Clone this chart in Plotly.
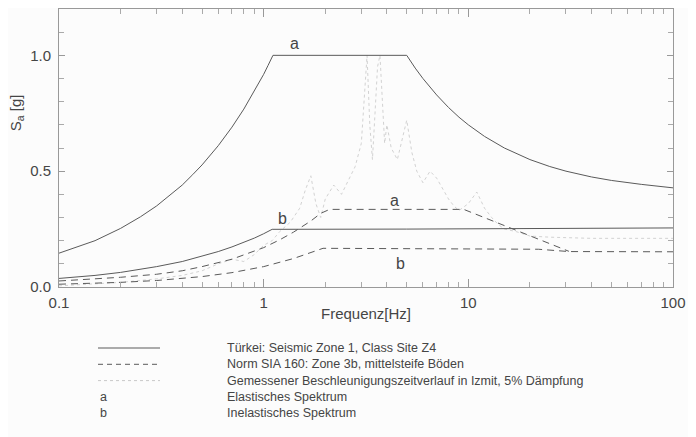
import math
import plotly.graph_objects as go

# ---- data ----
tr_el_f = [0.1, 0.12, 0.15, 0.2, 0.25, 0.3, 0.35, 0.4, 0.45, 0.5, 0.6, 0.7, 0.8, 0.9, 1.0, 1.05, 1.11,
           5.0, 5.25, 5.5, 6.0, 6.5, 7.0, 8.0, 9.0, 10.0, 12.0, 15.0, 20.0, 25.0, 30.0, 40.0, 50.0, 70.0, 100.0]
tr_el_v = [0.146, 0.169, 0.2, 0.253, 0.303, 0.35, 0.397, 0.44, 0.485, 0.527, 0.61, 0.69, 0.768, 0.845, 0.918, 0.956, 1.0,
           1.0, 0.971, 0.945, 0.9, 0.862, 0.829, 0.775, 0.733, 0.7, 0.65, 0.6, 0.55, 0.52, 0.5, 0.475, 0.46, 0.443, 0.428]

tr_in_f = [0.1, 0.15, 0.2, 0.3, 0.4, 0.5, 0.6, 0.7, 0.8, 0.9, 1.0, 1.1, 5.0, 100.0]
tr_in_v = [0.037, 0.05, 0.063, 0.088, 0.11, 0.132, 0.153, 0.173, 0.192, 0.211, 0.23, 0.249, 0.25, 0.255]

sia_el_f = [0.1, 0.15, 0.2, 0.3, 0.4, 0.5, 0.7, 1.0, 1.2, 1.4, 1.7, 1.9, 2.1, 9.5, 31.0]
sia_el_v = [0.026, 0.034, 0.042, 0.055, 0.07, 0.088, 0.12, 0.17, 0.204, 0.237, 0.285, 0.318, 0.335, 0.335, 0.154]

sia_in_f = [0.1, 0.2, 0.3, 0.4, 0.5, 0.7, 1.0, 1.4, 1.7, 1.95, 22.0, 31.0, 100.0]
sia_in_v = [0.012, 0.02, 0.028, 0.036, 0.045, 0.062, 0.088, 0.123, 0.148, 0.167, 0.163, 0.153, 0.152]

meas_f = [0.1, 0.15, 0.2, 0.3, 0.4, 0.5, 0.6, 0.7, 0.8, 0.9, 1.0, 1.1, 1.2, 1.35, 1.5, 1.6, 1.7, 1.8,
          1.9, 2.0, 2.2, 2.4, 2.6, 2.8, 3.0, 3.1, 3.2, 3.3, 3.4, 3.5, 3.6, 3.7, 3.8, 3.9, 4.0, 4.2,
          4.5, 4.8, 5.0, 5.3, 5.6, 6.0, 6.5, 7.0, 7.5, 8.0, 8.5, 9.0, 10.0, 11.0, 12.0, 13.0, 14.0,
          15.0, 17.0, 20.0, 25.0, 30.0, 40.0, 50.0, 60.0, 80.0, 100.0]
meas_v = [0.005, 0.012, 0.02, 0.035, 0.05, 0.07, 0.1, 0.12, 0.11, 0.14, 0.18, 0.2, 0.24, 0.28, 0.34,
          0.42, 0.48, 0.36, 0.3, 0.38, 0.44, 0.4, 0.46, 0.52, 0.62, 0.8, 1.0, 0.7, 0.55, 0.75, 0.95,
          1.0, 0.8, 0.62, 0.7, 0.6, 0.55, 0.65, 0.72, 0.58, 0.5, 0.45, 0.5, 0.47, 0.42, 0.38, 0.35,
          0.33, 0.36, 0.41, 0.34, 0.3, 0.27, 0.25, 0.24, 0.22, 0.215, 0.212, 0.21, 0.21, 0.21, 0.21, 0.21]

x_tick_vals = [0.1, 1, 10, 100]
x_tick_text = ["0.1", "1", "10", "100"]
y_tick_vals = [0.0, 0.5, 1.0]
y_tick_text = ["0.0", "0.5", "1.0"]

curve_labels = [  # (text, f, Sa)
    ("a", 1.42, 1.05),
    ("b", 1.24, 0.297),
    ("a", 4.38, 0.375),
    ("b", 4.64, 0.102),
]

legend_rows = [
    ("solid", "Türkei: Seismic Zone 1, Class Site Z4"),
    ("dash", "Norm SIA 160: Zone 3b, mittelsteife Böden"),
    ("dot", "Gemessener Beschleunigungszeitverlauf in Izmit, 5% Dämpfung"),
    ("a", "Elastisches Spektrum"),
    ("b", "Inelastisches Spektrum"),
]

FONT = "Liberation Sans"
TXT = "#454545"
LINE = "#5a5a5a"
BG = "#fcfcfc"

fig = go.Figure()
fig.add_trace(go.Scatter(x=meas_f, y=meas_v, mode="lines",
                         line=dict(color="#d2d2d2", width=1.0, dash="dot")))
fig.add_trace(go.Scatter(x=tr_el_f, y=tr_el_v, mode="lines", line=dict(color=LINE, width=1.0)))
fig.add_trace(go.Scatter(x=tr_in_f, y=tr_in_v, mode="lines", line=dict(color=LINE, width=1.0)))
fig.add_trace(go.Scatter(x=sia_el_f, y=sia_el_v, mode="lines", line=dict(color=LINE, width=1.0, dash="7px,5px")))
fig.add_trace(go.Scatter(x=sia_in_f, y=sia_in_v, mode="lines", line=dict(color=LINE, width=1.0, dash="7px,5px")))

for t, f, v in curve_labels:
    fig.add_annotation(x=math.log10(f), y=v, xref="x", yref="y", text=t, showarrow=False,
                       xanchor="center", yanchor="middle",
                       font=dict(family=FONT, size=16, color=TXT))

# axis titles
fig.add_annotation(x=-0.068, y=0.626, xref="paper", yref="paper", text="S<sub>a</sub> [g]",
                   textangle=-90, showarrow=False, xanchor="center", yanchor="middle",
                   font=dict(family=FONT, size=15, color=TXT))
fig.add_annotation(x=0.5, y=-0.097, xref="paper", yref="paper", text="Frequenz[Hz]",
                   showarrow=False, xanchor="center", yanchor="middle",
                   font=dict(family=FONT, size=15, color=TXT))

# legend block below the plot (page pixel positions -> paper fractions)
row_y0 = 348
row_dy = 16.3


def py(p):
    return (287 - p) / 278.0


def px(p):
    return (p - 59) / 614.0


for i, (kind, text) in enumerate(legend_rows):
    yy = py(row_y0 + i * row_dy)
    if kind in ("solid", "dash", "dot"):
        dash = {"solid": "solid", "dash": "5px,4px", "dot": "dot"}[kind]
        col = "#c8c8c8" if kind == "dot" else LINE
        fig.add_shape(type="line", xref="paper", yref="paper", x0=px(98), x1=px(160), y0=yy, y1=yy,
                      line=dict(color=col, width=1.0, dash=dash))
    else:
        fig.add_annotation(x=px(98), y=yy, xref="paper", yref="paper", text=kind, xanchor="left",
                           yanchor="middle", showarrow=False, font=dict(family=FONT, size=12.5, color=TXT))
    fig.add_annotation(x=px(225), y=yy, xref="paper", yref="paper", text=text, xanchor="left",
                       yanchor="middle", showarrow=False, font=dict(family=FONT, size=12.5, color=TXT))

minor_x = [m * 10 ** e for e in (-1, 0, 1) for m in range(2, 10)]
# the page body has an 8px margin, so the figure is 8px smaller and margins shifted
fig.update_layout(
    width=688, height=429,
    margin=dict(l=51, r=23, t=1, b=150),
    paper_bgcolor=BG, plot_bgcolor=BG,
    showlegend=False,
    font=dict(family=FONT, color=TXT),
    xaxis=dict(type="log", range=[-1, 2], tickvals=x_tick_vals, ticktext=x_tick_text,
               ticks="inside", ticklen=8, tickcolor="#999", showline=True, linecolor="#999",
               linewidth=1, mirror="ticks", showgrid=False, zeroline=False, ticklabelstandoff=2,
               tickfont=dict(family=FONT, size=15, color=TXT),
               minor=dict(tickvals=minor_x, ticks="inside", ticklen=5, tickcolor="#aaa", showgrid=False)),
    yaxis=dict(range=[0, 1.2], tickvals=y_tick_vals, ticktext=y_tick_text,
               ticks="inside", ticklen=6, tickcolor="#999", showline=True, linecolor="#999",
               linewidth=1, mirror="ticks", showgrid=False, zeroline=False, ticklabelstandoff=4,
               tickfont=dict(family=FONT, size=15, color=TXT),
               minor=dict(dtick=0.1, ticks="inside", ticklen=5, tickcolor="#aaa", showgrid=False)),
)

fig.write_html("out.html")
